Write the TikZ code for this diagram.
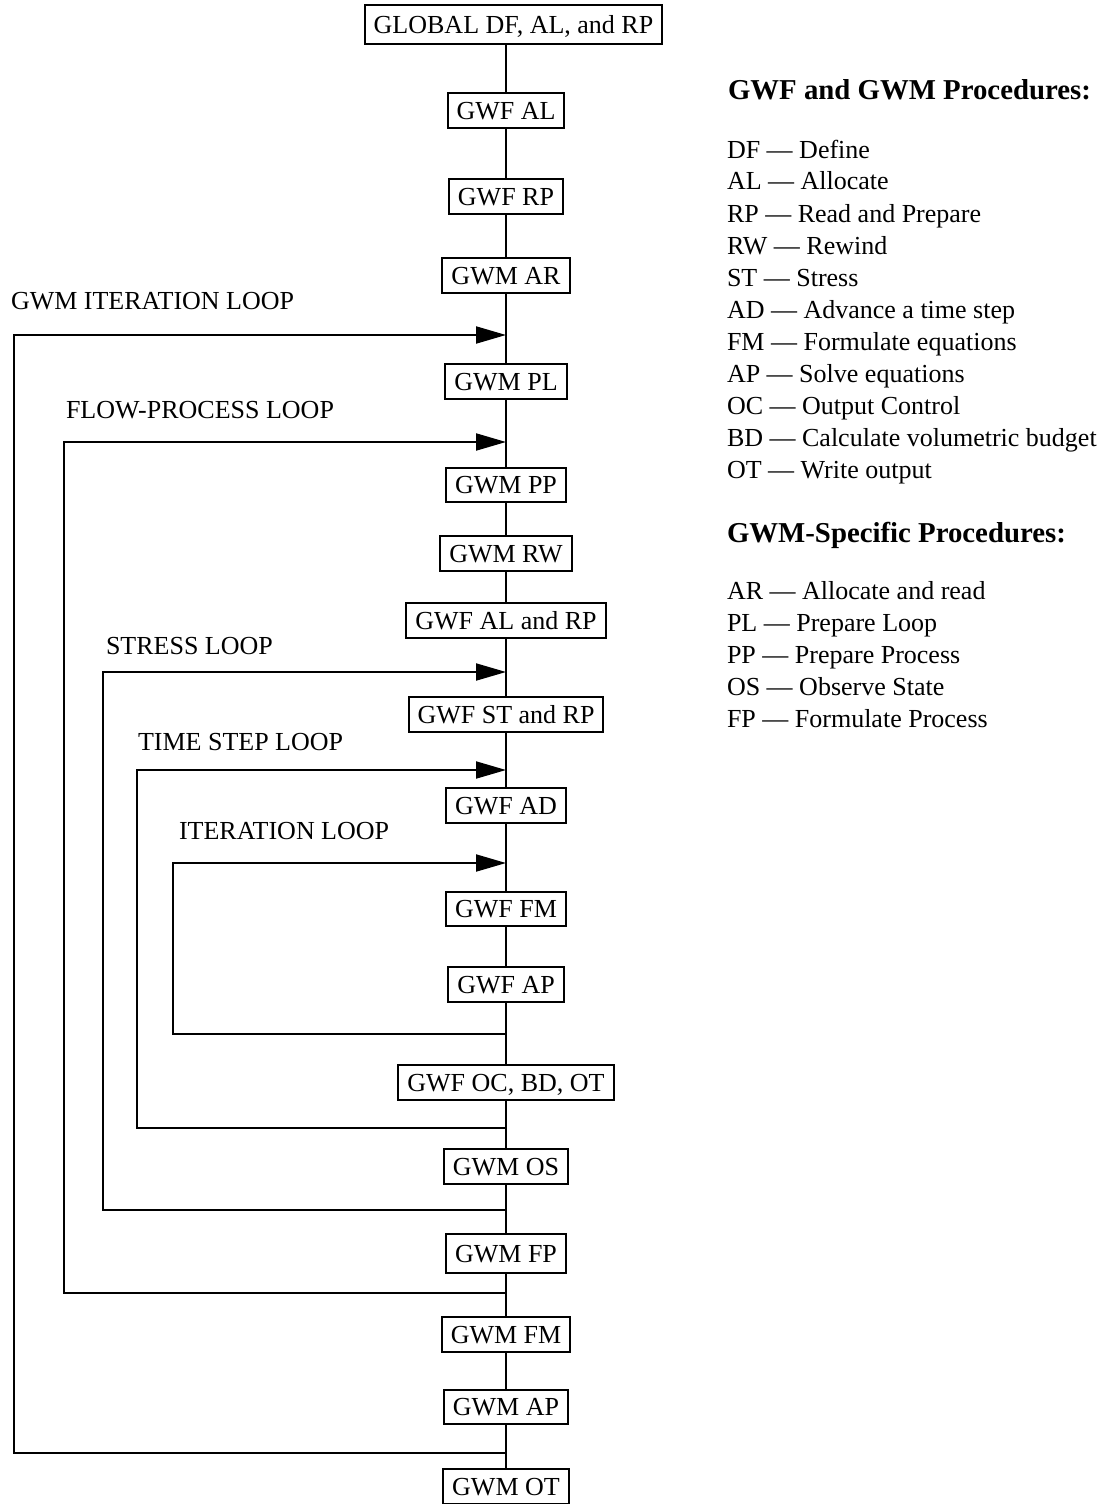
\documentclass[tikz,border=0pt]{standalone}
\usepackage{fontspec}
\setmainfont{Liberation Serif}
\usetikzlibrary{positioning, arrows.meta}

\begin{document}
\begin{tikzpicture}[x=0.5pt,y=-0.5pt,line width=1pt]
	\tikzstyle{proc}=[rectangle,draw=black,line width=1pt,font=\fontsize{13}{16}\selectfont,text height=8.6pt,text depth=0pt,inner xsep=4.5pt,inner ysep=4.4pt]
	\tikzstyle{looplabel}=[anchor=base west,inner sep=0pt,font=\fontsize{13}{16}\selectfont]
	\tikzstyle{legend}=[anchor=base west,inner sep=0pt,font=\fontsize{13}{16}\selectfont]
	\tikzstyle{legendhead}=[anchor=base west,inner sep=0pt,font=\fontsize{14.4}{17}\selectfont\bfseries]
	\tikzstyle{loopin}=[-{Triangle[length=15pt,width=8.5pt]}]
	\useasboundingbox (0,0) rectangle (1111,1504);

	% procedure boxes
	\node[proc,inner ysep=5.4pt](glob) at (513.5,24.5) {GLOBAL DF, AL, and RP};
	\node[proc](gwfal) at (506,110.5) {GWF AL};
	\node[proc](gwfrp) at (506,196.5) {GWF RP};
	\node[proc](gwmar) at (506,275.5) {GWM AR};
	\node[proc](gwmpl) at (506,381.5) {GWM PL};
	\node[proc](gwmpp) at (506,485) {GWM PP};
	\node[proc](gwmrw) at (506,553.5) {GWM RW};
	\node[proc](gwfalrp) at (506,620.5) {GWF AL and RP};
	\node[proc](gwfstrp) at (506,714.5) {GWF ST and RP};
	\node[proc](gwfad) at (506,805.5) {GWF AD};
	\node[proc](gwffm) at (506,909) {GWF FM};
	\node[proc](gwfap) at (506,984.5) {GWF AP};
	\node[proc](gwfoc) at (506,1082.5) {GWF OC, BD, OT};
	\node[proc](gwmos) at (506,1166.5) {GWM OS};
	\node[proc,inner ysep=5.4pt](gwmfp) at (506,1253.5) {GWM FP};
	\node[proc](gwmfm) at (506,1334.5) {GWM FM};
	\node[proc](gwmap) at (506,1407) {GWM AP};
	\node[proc](gwmot) at (506,1486.5) {GWM OT};

	\path[-]
		(glob.south -| gwfal) edge (gwfal)
		(gwfal) edge (gwfrp)
		(gwfrp) edge (gwmar)
		(gwmar) edge (gwmpl)
		(gwmpl) edge (gwmpp)
		(gwmpp) edge (gwmrw)
		(gwmrw) edge (gwfalrp)
		(gwfalrp) edge (gwfstrp)
		(gwfstrp) edge (gwfad)
		(gwfad) edge (gwffm)
		(gwffm) edge (gwfap)
		(gwfap) edge (gwfoc)
		(gwfoc) edge (gwmos)
		(gwmos) edge (gwmfp)
		(gwmfp) edge (gwmfm)
		(gwmfm) edge (gwmap)
		(gwmap) edge (gwmot);

	% loops
	\node[looplabel](gwmitlabel) at (10,309) {GWM ITERATION LOOP};
	\coordinate (gwmitin) at (506,335);
	\coordinate (gwmitout) at (506,1453);
	\coordinate (gwmittop) at (14,335);
	\coordinate (gwmitbot) at (14,1453);
	\draw[loopin] (gwmitout) -- (gwmitbot) -- (gwmittop) -- (gwmitin);

	\node[looplabel](flowlabel) at (65,418) {FLOW-PROCESS LOOP};
	\coordinate (flowin) at (506,442);
	\coordinate (flowout) at (506,1293);
	\coordinate (flowtop) at (64,442);
	\coordinate (flowbot) at (64,1293);
	\draw[loopin] (flowout) -- (flowbot) -- (flowtop) -- (flowin);

	\node[looplabel](stresslabel) at (105,654) {STRESS LOOP};
	\coordinate (stressin) at (506,672);
	\coordinate (stressout) at (506,1210);
	\coordinate (stresstop) at (103,672);
	\coordinate (stressbot) at (103,1210);
	\draw[loopin] (stressout) -- (stressbot) -- (stresstop) -- (stressin);

	\node[looplabel](tslabel) at (137,750) {TIME STEP LOOP};
	\coordinate (tsin) at (506,770);
	\coordinate (tsout) at (506,1128);
	\coordinate (tstop) at (137,770);
	\coordinate (tsbot) at (137,1128);
	\draw[loopin] (tsout) -- (tsbot) -- (tstop) -- (tsin);

	\node[looplabel](itlabel) at (178,839) {ITERATION LOOP};
	\coordinate (itin) at (506,863);
	\coordinate (itout) at (506,1034);
	\coordinate (ittop) at (173,863);
	\coordinate (itbot) at (173,1034);
	\draw[loopin] (itout) -- (itbot) -- (ittop) -- (itin);

	% legend
	\node[legendhead](headall) at (727,100) {GWF and GWM Procedures:};
	\node[legend](df) at (726,158) {DF — Define};
	\node[legend](al) at (726,190) {AL — Allocate};
	\node[legend](rp) at (726,222) {RP — Read and Prepare};
	\node[legend](rw) at (726,254) {RW — Rewind};
	\node[legend](st) at (726,286) {ST — Stress};
	\node[legend](ad) at (726,318) {AD — Advance a time step};
	\node[legend](fm) at (726,350) {FM — Formulate equations};
	\node[legend](ap) at (726,382) {AP — Solve equations};
	\node[legend](oc) at (726,414) {OC — Output Control};
	\node[legend](bd) at (726,446) {BD — Calculate volumetric budget};
	\node[legend](ot) at (726,478) {OT — Write output};

	\node[legendhead](headgwm) at (726,542) {GWM-Specific Procedures:};
	\node[legend](ar) at (726,599) {AR — Allocate and read};
	\node[legend](pl) at (726,631) {PL — Prepare Loop};
	\node[legend](pp) at (726,663) {PP — Prepare Process};
	\node[legend](os) at (726,695) {OS — Observe State};
	\node[legend](fp) at (726,727) {FP — Formulate Process};
\end{tikzpicture}
\end{document}
